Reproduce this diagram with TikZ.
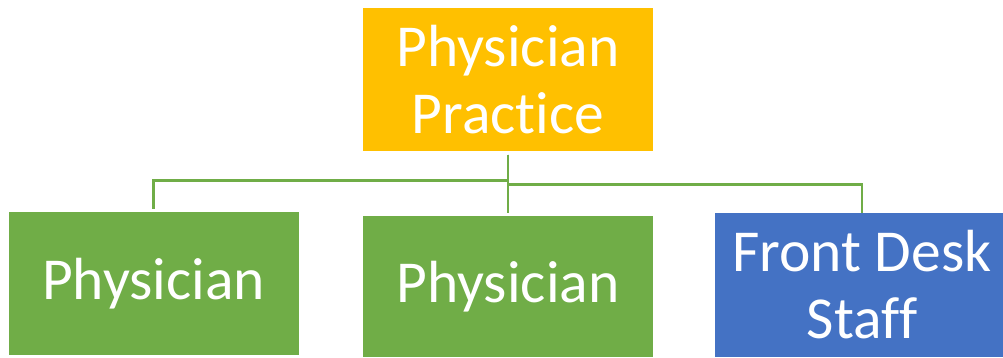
\documentclass[tikz,border=0pt]{standalone}
\usepackage{fontspec}
\setmainfont{Carlito}[Ligatures={NoCommon}]
\definecolor{gold}{RGB}{255,192,0}
\definecolor{leaf}{RGB}{112,173,71}
\definecolor{azure}{RGB}{68,114,196}
\begin{document}
\begin{tikzpicture}[x=1pt,y=-1pt,
  box/.style={minimum width=290pt,minimum height=143pt,inner sep=0pt,text=white,align=center,font=\fontsize{59.5}{67}\selectfont},
  link/.style={leaf,line width=2.5pt,shorten <=3pt,shorten >=3pt}]
\useasboundingbox (0,0) rectangle (1003,358);
\node [box,fill=gold] (practice) at (508,80) {Physician\\Practice};
\node [box,fill=leaf] (doc1) at (153.5,283.5) {Physician};
\node [box,fill=leaf,minimum height=141pt] (doc2) at (508,286.5) {Physician};
\node [box,fill=azure,minimum width=294pt,minimum height=144pt] (staff) at (862,285) {Front Desk\\Staff};
\draw [link] (practice.south) -- (doc2.north);
\draw [link] (practice.south) -- ++(0,29) -| (doc1.north);
\draw [link,shorten >=0pt] (practice.south) -- ++(0,33) -| (staff.north);
\end{tikzpicture}
\end{document}
